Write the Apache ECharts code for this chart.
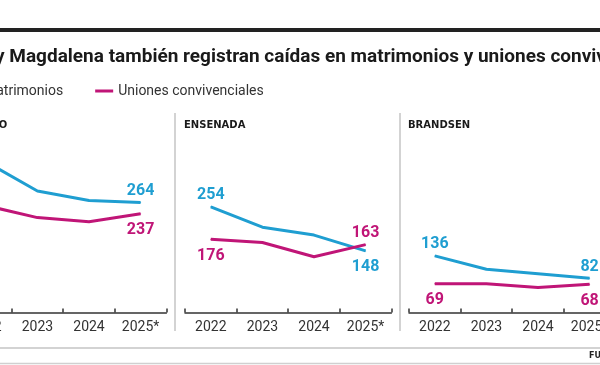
<!DOCTYPE html>
<html>
<head>
<meta charset="utf-8">
<script src="https://cdn.jsdelivr.net/npm/echarts@6/dist/echarts.min.js"></script>
<style>html,body{margin:0;padding:0;background:#fff}#c{width:600px;height:365px}</style>
</head>
<body>
<div id="c"></div>
<script>
const years = ['2022', '2023', '2024', '2025*'];
const panelNames = ['BERISSO', 'ENSENADA', 'BRANDSEN'];
const seriesNames = ['Matrimonios', 'Uniones convivenciales'];
const berissoMatrimonios = [362, 292, 269, 264];
const berissoUniones = [257, 228, 218, 237];
const ensenadaMatrimonios = [254, 205, 186, 148];
const ensenadaUniones = [176, 168, 134, 163];
const brandsenMatrimonios = [136, 104, 93, 82];
const brandsenUniones = [69, 69, 60, 68];
const titleText = 'y Magdalena también registran caídas en matrimonios y uniones convivenciales';
const sourceText = 'FUENTE';

const panelData = [
  [berissoMatrimonios, berissoUniones],
  [ensenadaMatrimonios, ensenadaUniones],
  [brandsenMatrimonios, brandsenUniones]
];
const colors = ['#1f9ed1', '#c01577'];
const gridLefts = [-40, 185, 409];
const gridW = 206.4;
const gridTop = 146;
const gridH = 166.5;

const chart = echarts.init(document.getElementById('c'), null, {renderer: 'canvas'});

const grids = [], xAxes = [], yAxes = [], series = [];
panelData.forEach((pair, p) => {
  grids.push({left: gridLefts[p], top: gridTop, width: gridW, height: gridH, outerBoundsMode: 'none'});
  xAxes.push({
    type: 'category', gridIndex: p, data: years, boundaryGap: true,
    axisLine: {show: true, onZero: false, lineStyle: {color: '#333', width: 1.5}},
    axisTick: {show: true, inside: true, length: 4, lineStyle: {color: '#333', width: 1.5}},
    axisLabel: {show: true, interval: 0, fontSize: 14, color: '#333', margin: 8, fontFamily: 'Roboto'}
  });
  yAxes.push({type: 'value', gridIndex: p, min: 0, max: 400, show: true,
    axisLine: {show: false}, axisTick: {show: false}, axisLabel: {show: false}, splitLine: {show: false}});
  pair.forEach((vals, s) => {
    const other = pair[1 - s];
    const last = vals.length - 1;
    series.push({
      type: 'line', name: seriesNames[s], xAxisIndex: p, yAxisIndex: p,
      symbol: 'circle', symbolSize: 1, showSymbol: true, smooth: false,
      lineStyle: {color: colors[s], width: 3},
      itemStyle: {color: colors[s]},
      data: vals.map((v, i) => ({
        value: v,
        label: {
          show: i === 0 || i === last,
          position: v >= other[i] ? 'top' : 'bottom',
          distance: v >= other[i] ? 3 : 8
        }
      })),
      label: {show: true, color: colors[s], fontSize: 16, fontWeight: 'bold', fontFamily: 'Roboto'},
      emphasis: {disabled: true}
    });
  });
});

const graphic = [
  {type: 'rect', shape: {x: 0, y: 28, width: 600, height: 4}, style: {fill: '#222'}},
  {type: 'text', x: -5, y: 57, style: {text: titleText, font: 'bold 19px Roboto', fill: '#1a1a1a', textVerticalAlign: 'middle'}},
  {type: 'line', shape: {x1: 175, y1: 113, x2: 175, y2: 331}, style: {stroke: '#c4c4c4', lineWidth: 1.5}},
  {type: 'line', shape: {x1: 400, y1: 113, x2: 400, y2: 331}, style: {stroke: '#c4c4c4', lineWidth: 1.5}},
  {type: 'line', shape: {x1: 0, y1: 348, x2: 600, y2: 348}, style: {stroke: '#c4c4c4', lineWidth: 1.5}},
  {type: 'line', shape: {x1: 0, y1: 363.5, x2: 600, y2: 363.5}, style: {stroke: '#d0d0d0', lineWidth: 1.5}},
  {type: 'text', x: 589, y: 356, style: {text: sourceText, font: 'bold 8px "DejaVu Sans"', fill: '#222', textVerticalAlign: 'middle'}}
];
panelNames.forEach((n, p) => {
  graphic.push({type: 'text', x: gridLefts[p] - 1, y: 125, style: {text: n, font: 'bold 10px "DejaVu Sans"', fill: '#1a1a1a', textVerticalAlign: 'middle'}});
});

chart.setOption({
  animation: false,
  backgroundColor: '#fff',
  legend: {
    show: true, left: -44, top: 79, itemWidth: 18, itemHeight: 3, itemGap: 32, icon: 'rect',
    data: seriesNames,
    textStyle: {fontSize: 14, color: '#333', fontFamily: 'Roboto'}
  },
  grid: grids,
  xAxis: xAxes,
  yAxis: yAxes,
  series: series,
  graphic: graphic
});
</script>
</body>
</html>
